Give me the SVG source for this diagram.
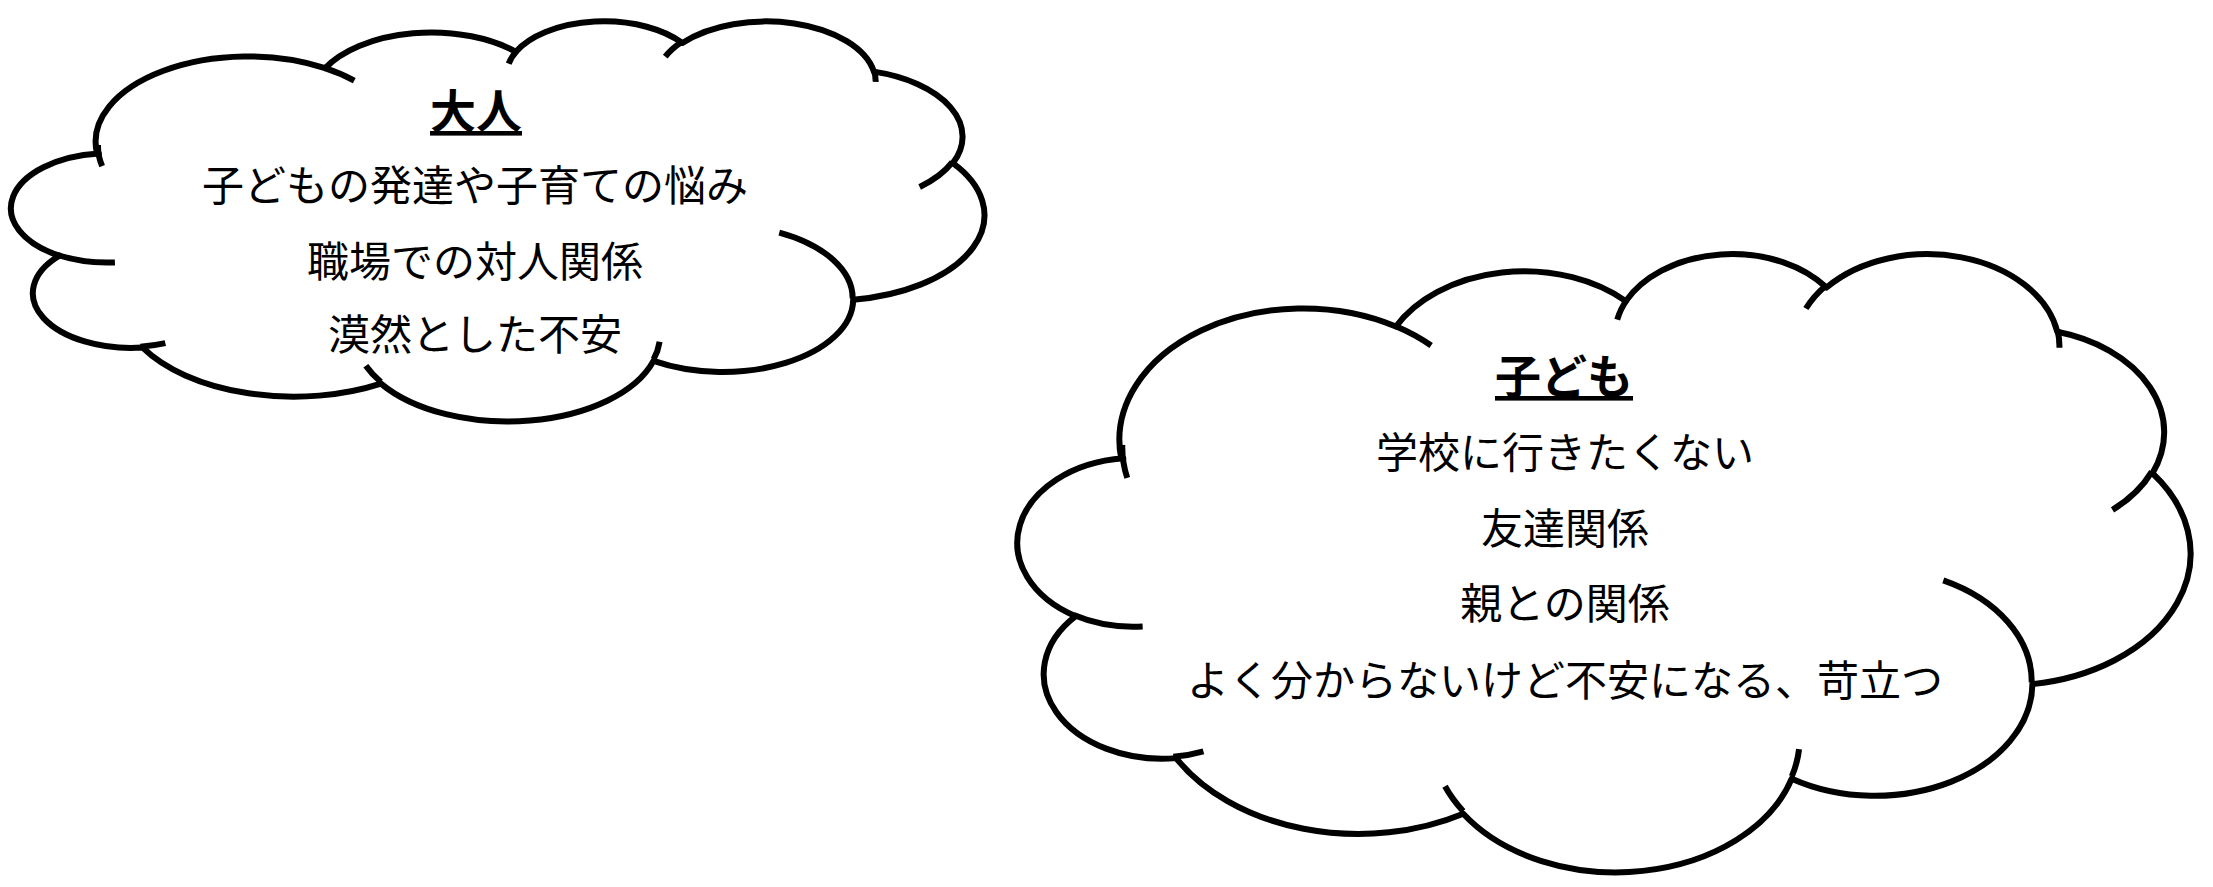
<svg xmlns="http://www.w3.org/2000/svg" width="2213" height="887" viewBox="0 0 2213 887">
<style>
text{font-family:"Noto Sans CJK JP","Noto Sans",sans-serif;fill:#000;text-anchor:middle}
.t{font-size:46px;font-weight:bold;text-decoration:underline}
.l{font-size:42px}
</style>
<defs>
<path id="cloudOutline" fill="#fff" stroke="#000" stroke-width="6" stroke-linejoin="round" vector-effect="non-scaling-stroke" d="M3900 14370 A6753 9190 0 0 1 14006 5203 A5333 7267 0 0 1 22457 3433 A4365 5945 0 0 1 29836 2484 A4857 6595 0 0 1 38321 5579 A5333 7273 0 0 1 41820 15463 A6775 9220 0 0 1 37405 30205 A5785 7867 0 0 1 28557 36815 A6752 9215 0 0 1 16481 39267 A7720 10543 0 0 1 5923 35379 A4360 5918 0 0 1 2232 25457 A4345 5945 0 0 1 3982 14414 Z"/>
<path id="cloudInner" fill="none" stroke="#000" stroke-width="6" stroke-linecap="butt" vector-effect="non-scaling-stroke" d="M4693 26177 A4345 5945 0 0 1 2159 25380 M6928 34899 A4360 5918 0 0 1 5820 35281 M16478 39090 A6752 9215 0 0 1 15810 37349 M28827 34751 A6752 9215 0 0 1 28560 36660 M34129 22954 A5785 7867 0 0 1 37380 30090 M41798 15354 A5333 7273 0 0 1 40351 18029 M38324 5426 A4857 6595 0 0 1 38400 6690 M29078 3952 A4857 6595 0 0 1 29820 2340 M22141 4720 A4365 5945 0 0 1 22500 3330 M14000 5192 A6753 9190 0 0 1 15299 6539 M4127 15789 A6753 9190 0 0 1 3945 13487"/>
</defs>
<g id="adult">
<g transform="translate(9 20) scale(0.022569 0.0092593)">
<use href="#cloudOutline"/>
<use href="#cloudInner"/>
</g>
<text class="t" x="476" y="128">大人</text>
<text class="l" x="475" y="201">子どもの発達や子育ての悩み</text>
<text class="l" x="475" y="277">職場での対人関係</text>
<text class="l" x="475" y="350">漠然とした不安</text>
</g>
<g id="child">
<g transform="translate(1015 252) scale(0.027199 0.014306)">
<use href="#cloudOutline"/>
<use href="#cloudInner"/>
</g>
<text class="t" x="1564" y="393">子ども</text>
<text class="l" x="1565" y="468">学校に行きたくない</text>
<text class="l" x="1565" y="544">友達関係</text>
<text class="l" x="1565" y="619">親との関係</text>
<text class="l" x="1565" y="696">よく分からないけど不安になる、苛立つ</text>
</g>
<g id="connectors"/>
</svg>
